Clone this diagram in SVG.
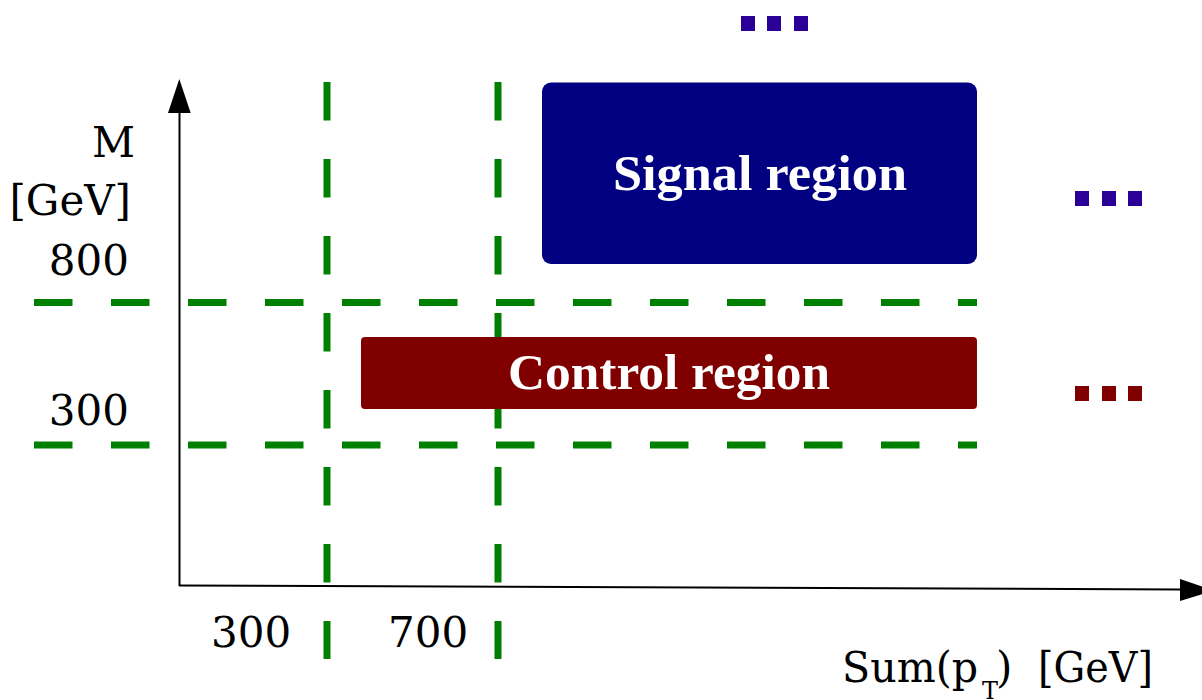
<svg xmlns="http://www.w3.org/2000/svg" width="1202" height="700" viewBox="0 0 1202 700">
  <style>
    .grid { stroke: #008000; stroke-width: 7; stroke-dasharray: 38.5 38.5; fill: none; }
    .axis { stroke: #000; stroke-width: 2; fill: none; }
    .lbl { font-family: "DejaVu Serif", serif; font-size: 42px; fill: #000; }
    .box-text { font-family: "Liberation Serif", serif; font-weight: bold; font-size: 50px; fill: #fff; text-anchor: middle; }
    .dot-blue { fill: #2a0096; }
    .dot-red { fill: #800000; }
  </style>

  <!-- cut lines -->
  <g id="cuts">
    <line class="grid" x1="34" y1="302.5" x2="977" y2="302.5"/>
    <line class="grid" x1="34" y1="445" x2="977" y2="445"/>
    <line class="grid" x1="327" y1="82" x2="327" y2="659"/>
    <line class="grid" x1="498" y1="82" x2="498" y2="659"/>
  </g>

  <!-- regions -->
  <g id="signal-region">
    <rect x="542" y="82.5" width="435" height="181.5" rx="9" fill="#000080"/>
    <text class="box-text" x="760" y="190" textLength="294" lengthAdjust="spacingAndGlyphs">Signal region</text>
  </g>
  <g id="control-region">
    <rect x="361" y="337" width="616" height="72" rx="4" fill="#800000"/>
    <text class="box-text" x="669" y="389" textLength="322" lengthAdjust="spacingAndGlyphs">Control region</text>
  </g>

  <!-- axes -->
  <g id="axes">
    <path class="axis" d="M179.5,586 L179.5,113" />
    <path d="M168,113 L179.3,79 L190.7,113 Z" fill="#000"/>
    <path class="axis" d="M179,585.5 L1180,589.5" />
    <path d="M1180,579 L1214,590.5 L1180,601 Z" fill="#000"/>
  </g>

  <!-- axis labels -->
  <g id="labels">
    <text class="lbl" x="135" y="157" text-anchor="end">M</text>
    <text class="lbl" x="131" y="215" text-anchor="end">[GeV]</text>
    <text class="lbl" x="129" y="275" text-anchor="end">800</text>
    <text class="lbl" x="129" y="425" text-anchor="end">300</text>
    <text class="lbl" x="211" y="647">300</text>
    <text class="lbl" x="388" y="647">700</text>
    <text class="lbl" y="682"><tspan x="842" textLength="136" lengthAdjust="spacingAndGlyphs">Sum(p</tspan><tspan x="982" y="699" font-size="24">T</tspan><tspan x="996" y="682">)</tspan><tspan x="1038" textLength="115" lengthAdjust="spacingAndGlyphs">[GeV]</tspan></text>
  </g>

  <!-- continuation marks -->
  <g id="more-top">
    <rect class="dot-blue" x="741" y="16" width="14" height="15"/>
    <rect class="dot-blue" x="767" y="16" width="14" height="15"/>
    <rect class="dot-blue" x="794" y="16" width="14" height="15"/>
  </g>
  <g id="more-signal">
    <rect class="dot-blue" x="1075" y="191" width="14" height="15"/>
    <rect class="dot-blue" x="1102" y="191" width="14" height="15"/>
    <rect class="dot-blue" x="1128" y="191" width="14" height="15"/>
  </g>
  <g id="more-control">
    <rect class="dot-red" x="1075" y="386" width="14" height="15"/>
    <rect class="dot-red" x="1102" y="386" width="14" height="15"/>
    <rect class="dot-red" x="1128" y="386" width="14" height="15"/>
  </g>
</svg>
